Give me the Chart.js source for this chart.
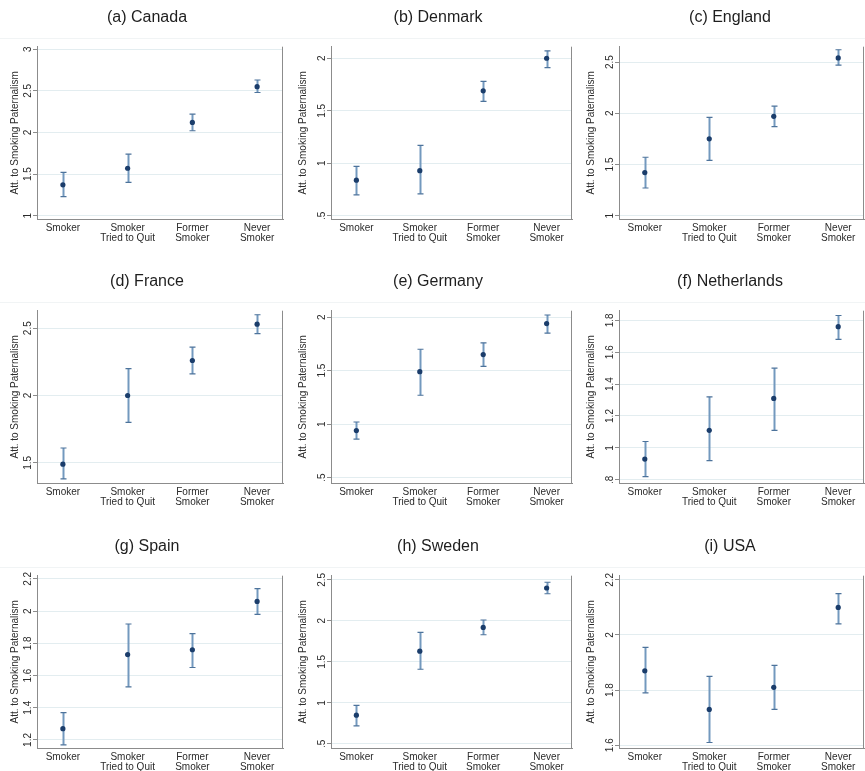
<!DOCTYPE html>
<html>
<head>
<meta charset="utf-8">
<script src="https://cdn.jsdelivr.net/npm/chart.js@4.4.1/dist/chart.umd.min.js"></script>
<style>
  html, body { margin:0; padding:0; background:#fff; overflow:hidden; }
  #wrap { position:relative; width:865px; height:771px; overflow:hidden; }
  #wrap canvas { position:absolute; }
</style>
</head>
<body>
<div id="wrap"></div>
<script>
// categories on the x axis (multi-line labels)
const categories = [['Smoker'], ['Smoker', 'Tried to Quit'], ['Former', 'Smoker'], ['Never', 'Smoker']];
const yTitle = 'Att. to Smoking Paternalism';

// point estimates and 95% bounds
const canadaEst = [1.37, 1.57, 2.12, 2.55];
const canadaLo  = [1.23, 1.40, 2.02, 2.48];
const canadaHi  = [1.52, 1.74, 2.22, 2.63];
const canadaTicks = [1, 1.5, 2, 2.5, 3];

const denmarkEst = [0.84, 0.93, 1.69, 2.00];
const denmarkLo  = [0.70, 0.71, 1.59, 1.91];
const denmarkHi  = [0.97, 1.17, 1.78, 2.07];
const denmarkTicks = [0.5, 1, 1.5, 2];

const englandEst = [1.42, 1.75, 1.97, 2.54];
const englandLo  = [1.27, 1.54, 1.87, 2.47];
const englandHi  = [1.57, 1.96, 2.07, 2.62];
const englandTicks = [1, 1.5, 2, 2.5];

const franceEst = [1.49, 2.00, 2.26, 2.53];
const franceLo  = [1.38, 1.80, 2.16, 2.46];
const franceHi  = [1.61, 2.20, 2.36, 2.60];
const franceTicks = [1.5, 2, 2.5];

const germanyEst = [0.94, 1.49, 1.65, 1.94];
const germanyLo  = [0.86, 1.27, 1.54, 1.85];
const germanyHi  = [1.02, 1.70, 1.76, 2.02];
const germanyTicks = [0.5, 1, 1.5, 2];

const netherlandsEst = [0.93, 1.11, 1.31, 1.76];
const netherlandsLo  = [0.82, 0.92, 1.11, 1.68];
const netherlandsHi  = [1.04, 1.32, 1.50, 1.83];
const netherlandsTicks = [0.8, 1, 1.2, 1.4, 1.6, 1.8];

const spainEst = [1.27, 1.73, 1.76, 2.06];
const spainLo  = [1.17, 1.53, 1.65, 1.98];
const spainHi  = [1.37, 1.92, 1.86, 2.14];
const spainTicks = [1.2, 1.4, 1.6, 1.8, 2, 2.2];

const swedenEst = [0.85, 1.63, 1.92, 2.40];
const swedenLo  = [0.72, 1.41, 1.83, 2.33];
const swedenHi  = [0.97, 1.86, 2.01, 2.47];
const swedenTicks = [0.5, 1, 1.5, 2, 2.5];

const usaEst = [1.87, 1.73, 1.81, 2.10];
const usaLo  = [1.79, 1.61, 1.73, 2.04];
const usaHi  = [1.955, 1.85, 1.89, 2.15];
const usaTicks = [1.6, 1.8, 2, 2.2];

const panels = [
  { title:'(a) Canada',      est:canadaEst,      lo:canadaLo,      hi:canadaHi,      ticks:canadaTicks,      min:0.96, max:3.03 },
  { title:'(b) Denmark',     est:denmarkEst,     lo:denmarkLo,     hi:denmarkHi,     ticks:denmarkTicks,     min:0.47, max:2.11 },
  { title:'(c) England',     est:englandEst,     lo:englandLo,     hi:englandHi,     ticks:englandTicks,     min:0.967, max:2.65 },
  { title:'(d) France',      est:franceEst,      lo:franceLo,      hi:franceHi,      ticks:franceTicks,      min:1.35, max:2.63 },
  { title:'(e) Germany',     est:germanyEst,     lo:germanyLo,     hi:germanyHi,     ticks:germanyTicks,     min:0.45, max:2.06 },
  { title:'(f) Netherlands', est:netherlandsEst, lo:netherlandsLo, hi:netherlandsHi, ticks:netherlandsTicks, min:0.78, max:1.86 },
  { title:'(g) Spain',       est:spainEst,       lo:spainLo,       hi:spainHi,       ticks:spainTicks,       min:1.15, max:2.22 },
  { title:'(h) Sweden',      est:swedenEst,      lo:swedenLo,      hi:swedenHi,      ticks:swedenTicks,      min:0.45, max:2.55 },
  { title:'(i) USA',         est:usaEst,         lo:usaLo,         hi:usaHi,         ticks:usaTicks,         min:1.59, max:2.215 }
];

// grid geometry
const colLeft = [0, 288, 576];
const colW    = [288, 288, 292];
const colPadL = [11, 14, 18];   // shifts the panel title
const colPadR = [5, 2, 2];
const colAxisW = [26, 29, 25];
const colTitlePad = [-2, -5, -9];
const rowTop = [0, 264, 529];
const panelH = 245;

const FONT = "'Liberation Sans', Arial, Helvetica, sans-serif";
const markerColor = '#1b3d6b';
const barColor = '#7399be';
const capColor = '#4d739b';
const axisColor = '#8c8c8c';
const gridColor = '#e3edf0';
const textColor = '#2b2b2b';

const fmtY = v => String(v).replace(/^0\./, '.');

const errBars = {
  id: 'errBars',
  beforeDatasetsDraw(chart){
    const { ctx, scales:{ x, y } } = chart;
    const ds = chart.data.datasets[0];
    ctx.save();
    ds.data.forEach((p, i) => {
      const px = Math.round(x.getPixelForValue(p.x)) + 0.5;
      const top = y.getPixelForValue(ds.hi[i]);
      const bot = y.getPixelForValue(ds.lo[i]);
      ctx.strokeStyle = barColor; ctx.lineWidth = 2;
      ctx.beginPath(); ctx.moveTo(px, top); ctx.lineTo(px, bot); ctx.stroke();
      ctx.strokeStyle = capColor; ctx.lineWidth = 1.2;
      ctx.beginPath();
      ctx.moveTo(px - 3, top); ctx.lineTo(px + 3, top);
      ctx.moveTo(px - 3, bot); ctx.lineTo(px + 3, bot);
      ctx.stroke();
    });
    ctx.restore();
  }
};

const frame = {
  id: 'frame',
  beforeDraw(chart){
    const ctx = chart.ctx;
    ctx.save();
    ctx.strokeStyle = '#f1f4f5'; ctx.lineWidth = 1;
    ctx.beginPath(); ctx.moveTo(0, 38.5); ctx.lineTo(chart.width, 38.5); ctx.stroke();
    ctx.restore();
  },
  afterDraw(chart){
    const { ctx, chartArea:a } = chart;
    ctx.save();
    ctx.strokeStyle = axisColor; ctx.lineWidth = 1;
    const xr = Math.round(a.right) - 0.5;
    ctx.beginPath(); ctx.moveTo(xr, a.top); ctx.lineTo(xr, a.bottom); ctx.stroke();
    ctx.restore();
  }
};

const wrap = document.getElementById('wrap');

panels.forEach((p, k) => {
  const c = k % 3, r = Math.floor(k / 3);
  const cv = document.createElement('canvas');
  cv.width = colW[c]; cv.height = panelH;
  cv.style.left = colLeft[c] + 'px';
  cv.style.top = rowTop[r] + 'px';
  cv.style.width = colW[c] + 'px';
  cv.style.height = panelH + 'px';
  wrap.appendChild(cv);

  new Chart(cv, {
    type: 'scatter',
    data: {
      datasets: [{
        data: p.est.map((v, i) => ({ x:i, y:v })),
        lo: p.lo, hi: p.hi,
        pointRadius: 2.6, pointBackgroundColor: markerColor, pointBorderWidth: 0,
        showLine: false
      }]
    },
    options: {
      responsive: false, animation: false, devicePixelRatio: 1,
      layout: { padding: { left: colPadL[c], right: colPadR[c], top: 0, bottom: 0 } },
      plugins: {
        legend: { display: false },
        tooltip: { enabled: false },
        title: {
          display: true, text: p.title, color: '#1e1e1e',
          font: { family: FONT, size: 16, weight: 'normal', lineHeight: 1.2 },
          padding: { top: 8, bottom: 19.5 }
        }
      },
      scales: {
        x: {
          type: 'linear', min: -0.4, max: 3.4,
          afterBuildTicks: s => { s.ticks = categories.map((_, i) => ({ value: i })); },
          afterFit: s => { s.height = panelH - 219; },
          grid: { display: false, drawTicks: false },
          border: { color: axisColor },
          ticks: {
            autoSkip: false, minRotation: 0, maxRotation: 0, padding: 4, color: textColor,
            font: { family: FONT, size: 10, lineHeight: 1.0 },
            callback: v => categories[v]
          }
        },
        y: {
          min: p.min, max: p.max,
          afterBuildTicks: s => { s.ticks = p.ticks.map(v => ({ value: v })); },
          afterFit: s => { s.width = colAxisW[c]; },
          grid: { color: gridColor, tickColor: axisColor, tickLength: 4, drawTicks: true },
          border: { color: axisColor },
          ticks: {
            minRotation: 90, maxRotation: 90, crossAlign: 'center', padding: -2,
            color: textColor, font: { family: FONT, size: 10 },
            callback: v => fmtY(v)
          },
          title: {
            display: true, text: yTitle, color: textColor,
            font: { family: FONT, size: 10, lineHeight: 1.2 },
            padding: { top: colTitlePad[c], bottom: 0 }
          }
        }
      }
    },
    plugins: [errBars, frame]
  });
});
</script>
</body>
</html>
